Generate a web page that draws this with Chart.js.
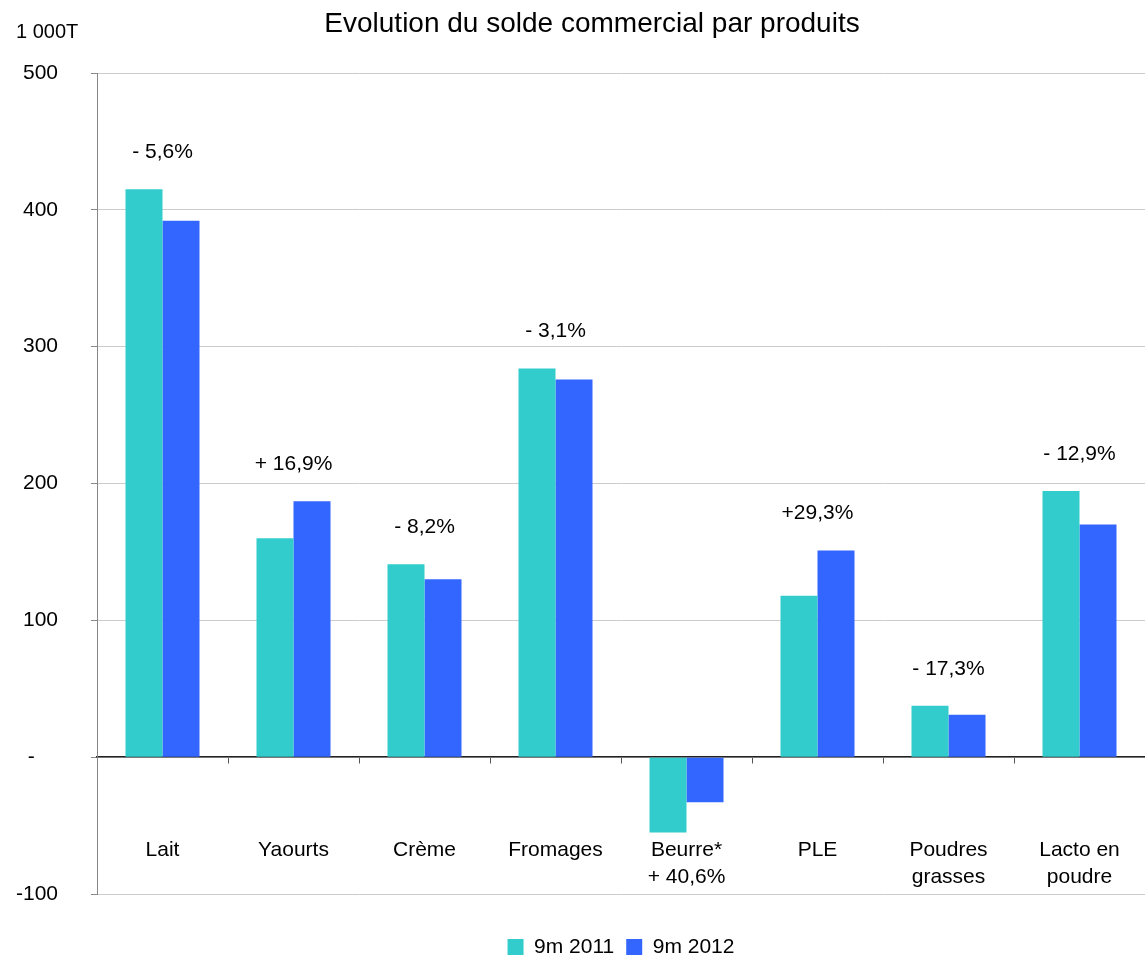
<!DOCTYPE html>
<html>
<head>
<meta charset="utf-8">
<title>Evolution du solde commercial par produits</title>
<script src="https://cdn.jsdelivr.net/npm/chart.js@4.4.7/dist/chart.umd.min.js"></script>
<style>
  html, body { margin: 0; padding: 0; background: #fff; }
  #wrap { width: 1145px; height: 955px; }
</style>
</head>
<body>
<div id="wrap"><canvas id="chart" width="1145" height="955"></canvas></div>
<script>
// values in 1 000 T
const products = ['Lait', 'Yaourts', 'Crème', 'Fromages', ['Beurre*', '+ 40,6%'], 'PLE', ['Poudres', 'grasses'], ['Lacto en', 'poudre']];
const seriesNames = ['9m 2011', '9m 2012'];
const solde2011 = [415, 160, 141, 284, -55, 118, 37.5, 194.5];
const solde2012 = [392, 187, 130, 276, -33, 151, 31, 170];
const evolution = ['- 5,6%', '+ 16,9%', '- 8,2%', '- 3,1%', '', '+29,3%', '- 17,3%', '- 12,9%'];
const yTicks = [-100, 0, 100, 200, 300, 400, 500];

const FONT = "'Liberation Sans', Arial, sans-serif";
Chart.defaults.font.family = FONT;
Chart.defaults.color = '#000';

// title, unit and the % change written over each pair of bars
const textPlugin = {
  id: 'texts',
  afterDatasetsDraw(chart) {
    const { ctx, scales } = chart;
    ctx.save();
    ctx.fillStyle = '#000';
    ctx.textBaseline = 'middle';
    ctx.font = `28px ${FONT}`;
    ctx.textAlign = 'center';
    ctx.fillText('Evolution du solde commercial par produits', 592, 24);
    ctx.font = `20px ${FONT}`;
    ctx.textAlign = 'left';
    ctx.fillText('1 000T', 16, 32);

    ctx.font = `21px ${FONT}`;
    ctx.textAlign = 'center';
    const m0 = chart.getDatasetMeta(0).data;
    const m1 = chart.getDatasetMeta(1).data;
    evolution.forEach((txt, i) => {
      if (!txt) return;
      const top = Math.min(m0[i].y, m1[i].y);
      ctx.fillText(txt, scales.x.getPixelForValue(i), top - 37);
    });
    ctx.restore();
  },
};

new Chart(document.getElementById('chart'), {
  type: 'bar',
  data: {
    labels: products,
    datasets: [
      { label: seriesNames[0], data: solde2011, backgroundColor: '#33CCCC' },
      { label: seriesNames[1], data: solde2012, backgroundColor: '#3366FF' },
    ],
  },
  options: {
    responsive: false,
    animation: false,
    barPercentage: 1,
    categoryPercentage: 0.565,
    layout: { padding: { top: 73, left: 0, right: 0, bottom: -12.5 } },
    scales: {
      x: {
        position: { y: 0 },
        offset: true,
        afterFit: (s) => { s.paddingLeft = 0; s.paddingRight = 0; },
        grid: { offset: true, drawOnChartArea: false, drawTicks: true, tickLength: 6, color: '#555', lineWidth: 1 },
        border: { display: true, color: '#222', width: 1.5 },
        ticks: { padding: 73, font: { size: 21, lineHeight: 1.3 }, color: '#000', maxRotation: 0, autoSkip: false },
      },
      y: {
        min: -100,
        max: 500,
        afterBuildTicks: (s) => { s.ticks = yTicks.map((v) => ({ value: v })); },
        afterFit: (s) => { s.width = 97; },
        grid: { color: '#cccccc', tickColor: '#888', tickLength: 6, drawTicks: true },
        border: { color: '#888' },
        ticks: {
          padding: 33,
          font: { size: 21 },
          color: '#000',
          callback: (v) => (v === 0 ? '-    ' : v),
        },
      },
    },
    plugins: {
      title: { display: false },
      tooltip: { enabled: false },
      legend: {
        position: 'bottom',
        fullSize: false,
        title: { display: true, text: '', font: { size: 10 }, padding: { top: 9, bottom: 9.5 } },
        labels: { boxWidth: 16, boxHeight: 16, padding: 12, font: { size: 21 }, color: '#000' },
      },
    },
  },
  plugins: [textPlugin],
});
</script>
</body>
</html>
